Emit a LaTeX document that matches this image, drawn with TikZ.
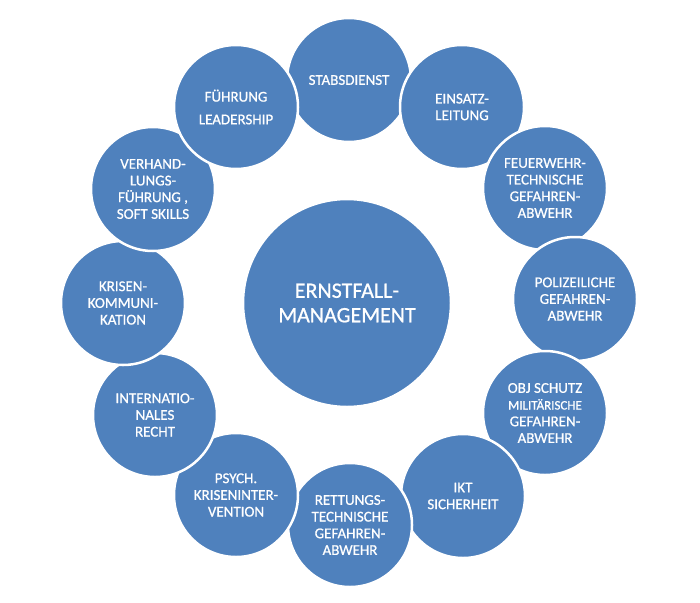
\documentclass[tikz,border=0pt]{standalone}
\usepackage{fontspec}
\setmainfont{Carlito}[RawFeature={embolden=0.7}]
\definecolor{blu}{HTML}{4F81BD}
\tikzset{
  bubble/.style={circle, fill=blu, draw=white, line width=2.5pt, minimum size=124pt,
    inner sep=0pt, text=white, align=center, font=\fontsize{15}{16.7}\selectfont},
  hub/.style={circle, fill=blu, draw=white, line width=2.5pt, minimum size=208pt,
    inner sep=0pt, text=white, align=center, font=\fontsize{22}{24.5}\selectfont}
}
\begin{document}
\begin{tikzpicture}[x=1pt,y=-1pt]
\useasboundingbox (0,0) rectangle (700,602);
\node[bubble] (s1) at (349,80) {STABSDIENST};
\node[bubble] (s2) at (462,107) {EINSATZ-\\LEITUNG};
\node[bubble] (s3) at (545,188) {FEUERWEHR-\\TECHNISCHE\\GEFAHREN-\\ABWEHR};
\node[bubble] (s4) at (575,299) {POLIZEILICHE\\GEFAHREN-\\ABWEHR};
\node[bubble] (s5) at (545,413) {OBJ SCHUTZ\\{\fontsize{13}{16.7}\selectfont MILITÄRISCHE}\\GEFAHREN-\\ABWEHR};
\node[bubble] (s6) at (463,496) {IKT\\SICHERHEIT};
\node[bubble] (s7) at (350,525) {RETTUNGS-\\TECHNISCHE\\GEFAHREN-\\ABWEHR};
\node[bubble] (s8) at (236,495) {PSYCH.\\KRISENINTER-\\VENTION};
\node[bubble] (s9) at (155,415) {INTERNATIO-\\NALES\\RECHT};
\node[bubble] (s10) at (123,303) {KRISEN-\\KOMMUNI-\\KATION};
\node[bubble] (s11) at (153,189) {VERHAND-\\LUNGS-\\FÜHRUNG ,\\SOFT SKILLS};
\node[bubble] (s12) at (236,107) {FÜHRUNG\\[6pt]LEADERSHIP};
\node[hub] (c) at (347,303) {ERNSTFALL-\\MANAGEMENT};
\end{tikzpicture}
\end{document}
